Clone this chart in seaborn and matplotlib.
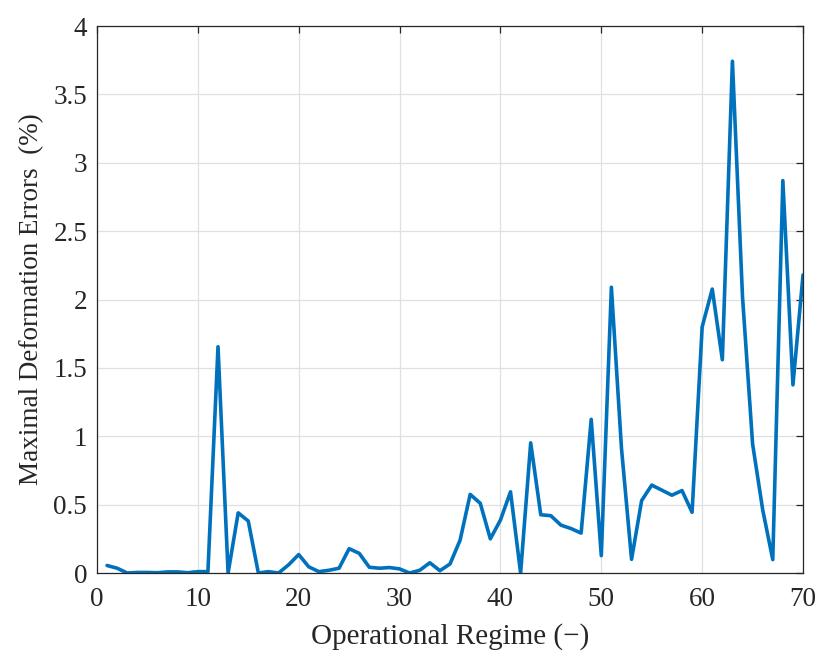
import numpy as np
import pandas as pd
import matplotlib
matplotlib.use("Agg")
import matplotlib.pyplot as plt
import seaborn as sns

regime = list(range(1, 71))
errors = [0.055, 0.035, 0.0, 0.004, 0.004, 0.002, 0.008, 0.008, 0.002, 0.01,
          0.01, 1.655, 0.0, 0.44, 0.38, 0.0, 0.01, 0.0, 0.06, 0.135,
          0.045, 0.01, 0.02, 0.035, 0.178, 0.144, 0.042, 0.035, 0.04, 0.03,
          0.0, 0.02, 0.075, 0.017, 0.066, 0.24, 0.575, 0.51, 0.25, 0.387,
          0.594, 0.0, 0.952, 0.426, 0.419, 0.35, 0.325, 0.292, 1.124, 0.127,
          2.09, 0.913, 0.10, 0.53, 0.643, 0.606, 0.569, 0.603, 0.444, 1.80,
          2.077, 1.56, 3.743, 2.02, 0.944, 0.463, 0.098, 2.87, 1.376, 2.18]
x_ticks = [0, 10, 20, 30, 40, 50, 60, 70]
y_ticks = [0, 0.5, 1, 1.5, 2, 2.5, 3, 3.5, 4]
y_tick_labels = ["0", "0.5", "1", "1.5", "2", "2.5", "3", "3.5", "4"]

df = pd.DataFrame({"regime": regime, "error": errors})

sns.set_theme(style="white")
plt.rcParams['font.family'] = ['Liberation Serif', 'DejaVu Serif']

fig = plt.figure(figsize=(8.19, 6.53), dpi=100)
ax = fig.add_axes([0.1184, 0.1225, 0.8621, 0.8375])

sns.lineplot(data=df, x="regime", y="error", ax=ax, color="#0072BD", linewidth=2.6)

ax.set_xlim(0, 70)
ax.set_ylim(0, 4)
ax.set_xticks(x_ticks)
ax.set_xticklabels([str(t) for t in x_ticks])
ax.set_yticks(y_ticks)
ax.set_yticklabels(y_tick_labels)
ax.grid(True, color="#e0e0e0", linewidth=0.9)
ax.set_axisbelow(True)
for s in ax.spines.values():
    s.set_color("#262626")
    s.set_linewidth(0.9)
ax.tick_params(axis="both", which="both", direction="in", top=True, right=True,
               length=5, width=0.9, color="#262626", labelsize=19.5, labelcolor="#262626")
ax.tick_params(axis="x", pad=10)
ax.tick_params(axis="y", pad=7)
ax.set_xlabel("Operational Regime (\u2212)", fontsize=21, color="#262626", labelpad=8)
ax.set_ylabel("Maximal Deformation Errors  (%)", fontsize=19.5, color="#262626", labelpad=7)

fig.savefig("out.png", dpi=100)
